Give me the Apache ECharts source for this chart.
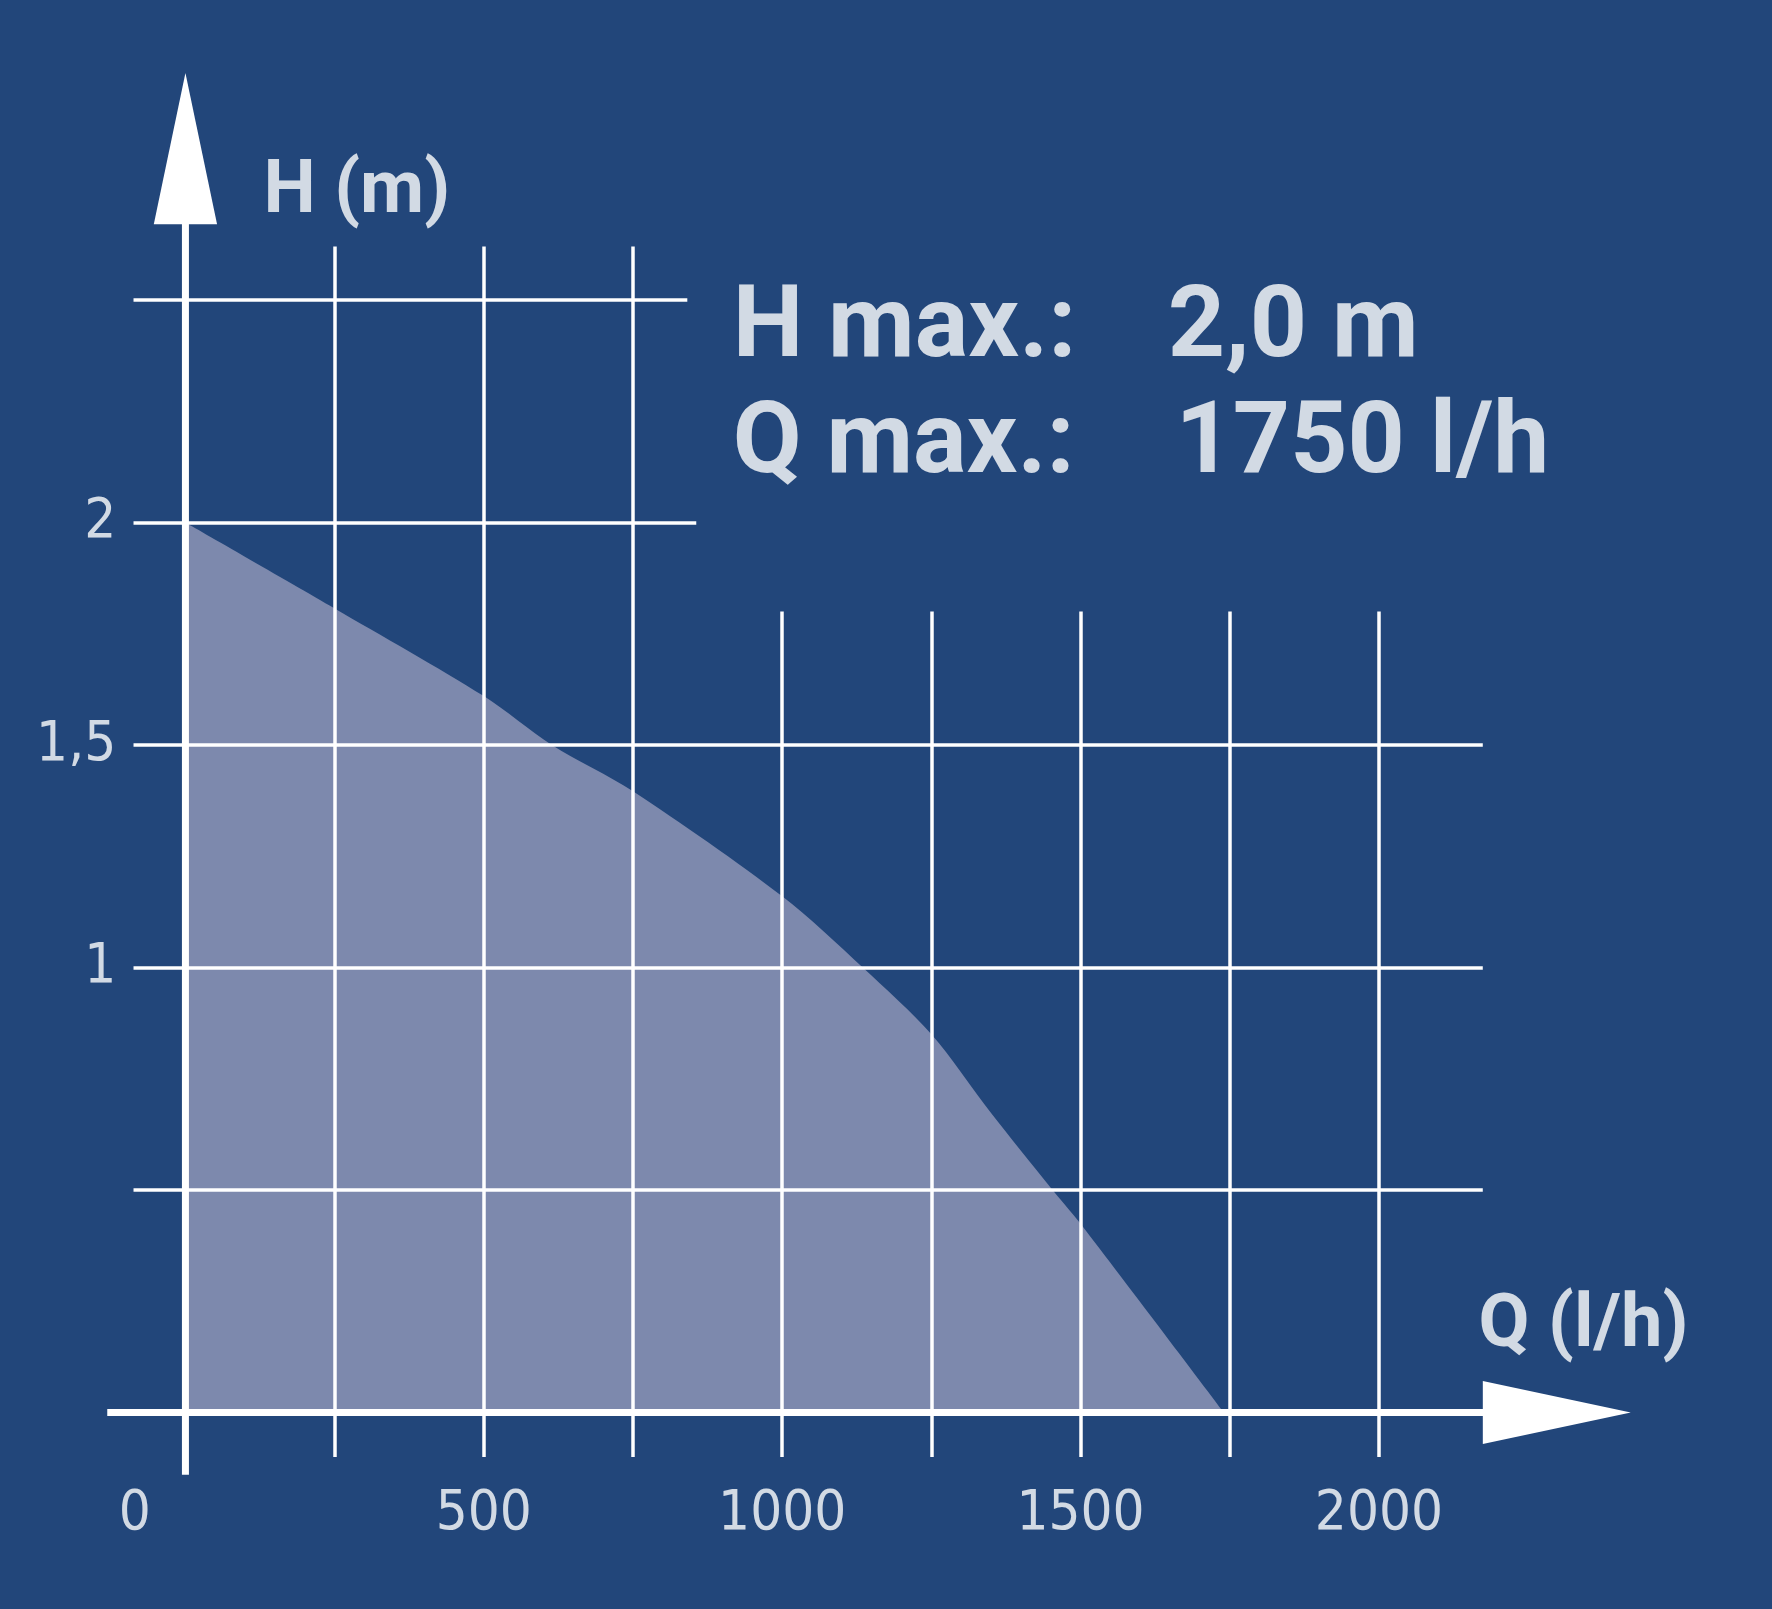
<!DOCTYPE html>
<html><head><meta charset="utf-8">
<script src="https://cdn.jsdelivr.net/npm/echarts@6/dist/echarts.min.js"></script>
<style>html,body{margin:0;background:#22467a}#c{width:1772px;height:1609px}</style>
</head><body><div id="c"></div>
<script>
const flow = [0, 250, 500, 614, 750, 1000, 1135, 1250, 1350, 1450, 1500, 1740];
const head = [2.0, 1.807, 1.61, 1.5, 1.396, 1.16, 1.0, 0.85, 0.673, 0.505, 0.424, 0];
const xTicks = [0, 500, 1000, 1500, 2000];
const xTickLabels = ['0', '500', '1000', '1500', '2000'];
const yTicks = [2, 1.5, 1];
const yTickLabels = ['2', '1,5', '1'];
const hGridShort = [2.5, 2];
const hGridLong = [1.5, 1, 0.5];
const vGridTall = [250, 500, 750];
const vGridShort = [1000, 1250, 1500, 1750, 2000];

const W = '#ffffff';
const narrow = '"Liberation Sans Narrow","DejaVu Sans Condensed",sans-serif';
const chart = echarts.init(document.getElementById('c'));
const seg = (a, b) => [{coord: a}, {coord: b}];
const gridLines = [];
hGridShort.forEach((h, i) => gridLines.push(seg([-87, h], [i === 0 ? 841 : 856, h])));
hGridLong.forEach(h => gridLines.push(seg([-87, h], [2174, h])));
vGridTall.forEach(q => gridLines.push(seg([q, 2.62], [q, -0.1])));
vGridShort.forEach(q => gridLines.push(seg([q, 1.80], [q, -0.1])));

const texts = [];
xTicks.forEach((q, i) => texts.push({value: [i === 0 ? -85 : q, -0.228], t: xTickLabels[i], align: 'center', size: 56, weight: 'normal', font: narrow}));
yTicks.forEach((h, i) => texts.push({value: [-116, h], t: yTickLabels[i], align: 'right', size: 56, weight: 'normal', font: narrow}));
texts.push({value: [131, 2.74], t: 'H (m)', align: 'left', size: 74, weight: 'bold', font: 'Roboto,sans-serif'});
texts.push({value: [2167, 0.19], t: 'Q (l/h)', align: 'left', size: 74, weight: 'bold', font: 'Roboto,sans-serif'});
texts.push({value: [917, 2.43], t: 'H max.:', align: 'left', size: 100, weight: 'bold', font: 'Roboto,sans-serif'});
texts.push({value: [1646, 2.43], t: '2,0 m', align: 'left', size: 100, weight: 'bold', font: 'Roboto,sans-serif'});
texts.push({value: [917, 2.17], t: 'Q max.:', align: 'left', size: 100, weight: 'bold', font: 'Roboto,sans-serif'});
texts.push({value: [1659, 2.17], t: '1750 l/h', align: 'left', size: 100, weight: 'bold', font: 'Roboto,sans-serif'});

chart.setOption({
  backgroundColor: '#22467a',
  animation: false,
  grid: {left: 81, right: 35, top: 33, bottom: 63},
  xAxis: {type: 'value', min: -175, max: 2600, show: false},
  yAxis: {type: 'value', min: -0.3, max: 3.1, show: false},
  series: [
    {type: 'line', data: flow.map((q, i) => [q, head[i]]), showSymbol: false, smooth: 0.3,
     lineStyle: {width: 0}, areaStyle: {color: '#7d89ad', opacity: 1}, z: 1},
    {type: 'line', data: [], markLine: {silent: true, symbol: 'none', label: {show: false},
      lineStyle: {color: W, width: 3.5, type: 'solid'}, data: gridLines}, z: 2},
    {type: 'custom', z: 3, data: [0],
     renderItem: (params, api) => {
       const c = p => api.coord(p);
       const p1 = c([-131, 0]), p2 = c([2180, 0]);
       const p3 = c([0, -0.14]), p4 = c([0, 2.68]);
       return {type: 'group', children: [
         {type: 'line', shape: {x1: p1[0], y1: p1[1], x2: p2[0], y2: p2[1]}, style: {stroke: W, lineWidth: 7}},
         {type: 'line', shape: {x1: p3[0], y1: p3[1], x2: p4[0], y2: p4[1]}, style: {stroke: W, lineWidth: 7}},
         {type: 'polygon', shape: {points: [c([-53, 2.67]), c([53, 2.67]), c([0, 3.01])]}, style: {fill: W}},
         {type: 'polygon', shape: {points: [c([2174, 0.071]), c([2174, -0.071]), c([2422, 0])]}, style: {fill: W}}
       ]};
     }},
    {type: 'scatter', z: 4, symbolSize: 0, data: texts,
     label: {show: true, position: 'inside', color: W,
       formatter: p => p.data.t},
     labelLayout: null}
  ]
});
// apply per-item label styles
const opt = chart.getOption();
chart.setOption({series: [{}, {}, {}, {data: texts.map(d => ({value: d.value, t: d.t,
  label: {align: d.align, fontSize: d.size, fontWeight: d.weight, fontFamily: d.font, verticalAlign: 'middle'}}))}]});
</script></body></html>
